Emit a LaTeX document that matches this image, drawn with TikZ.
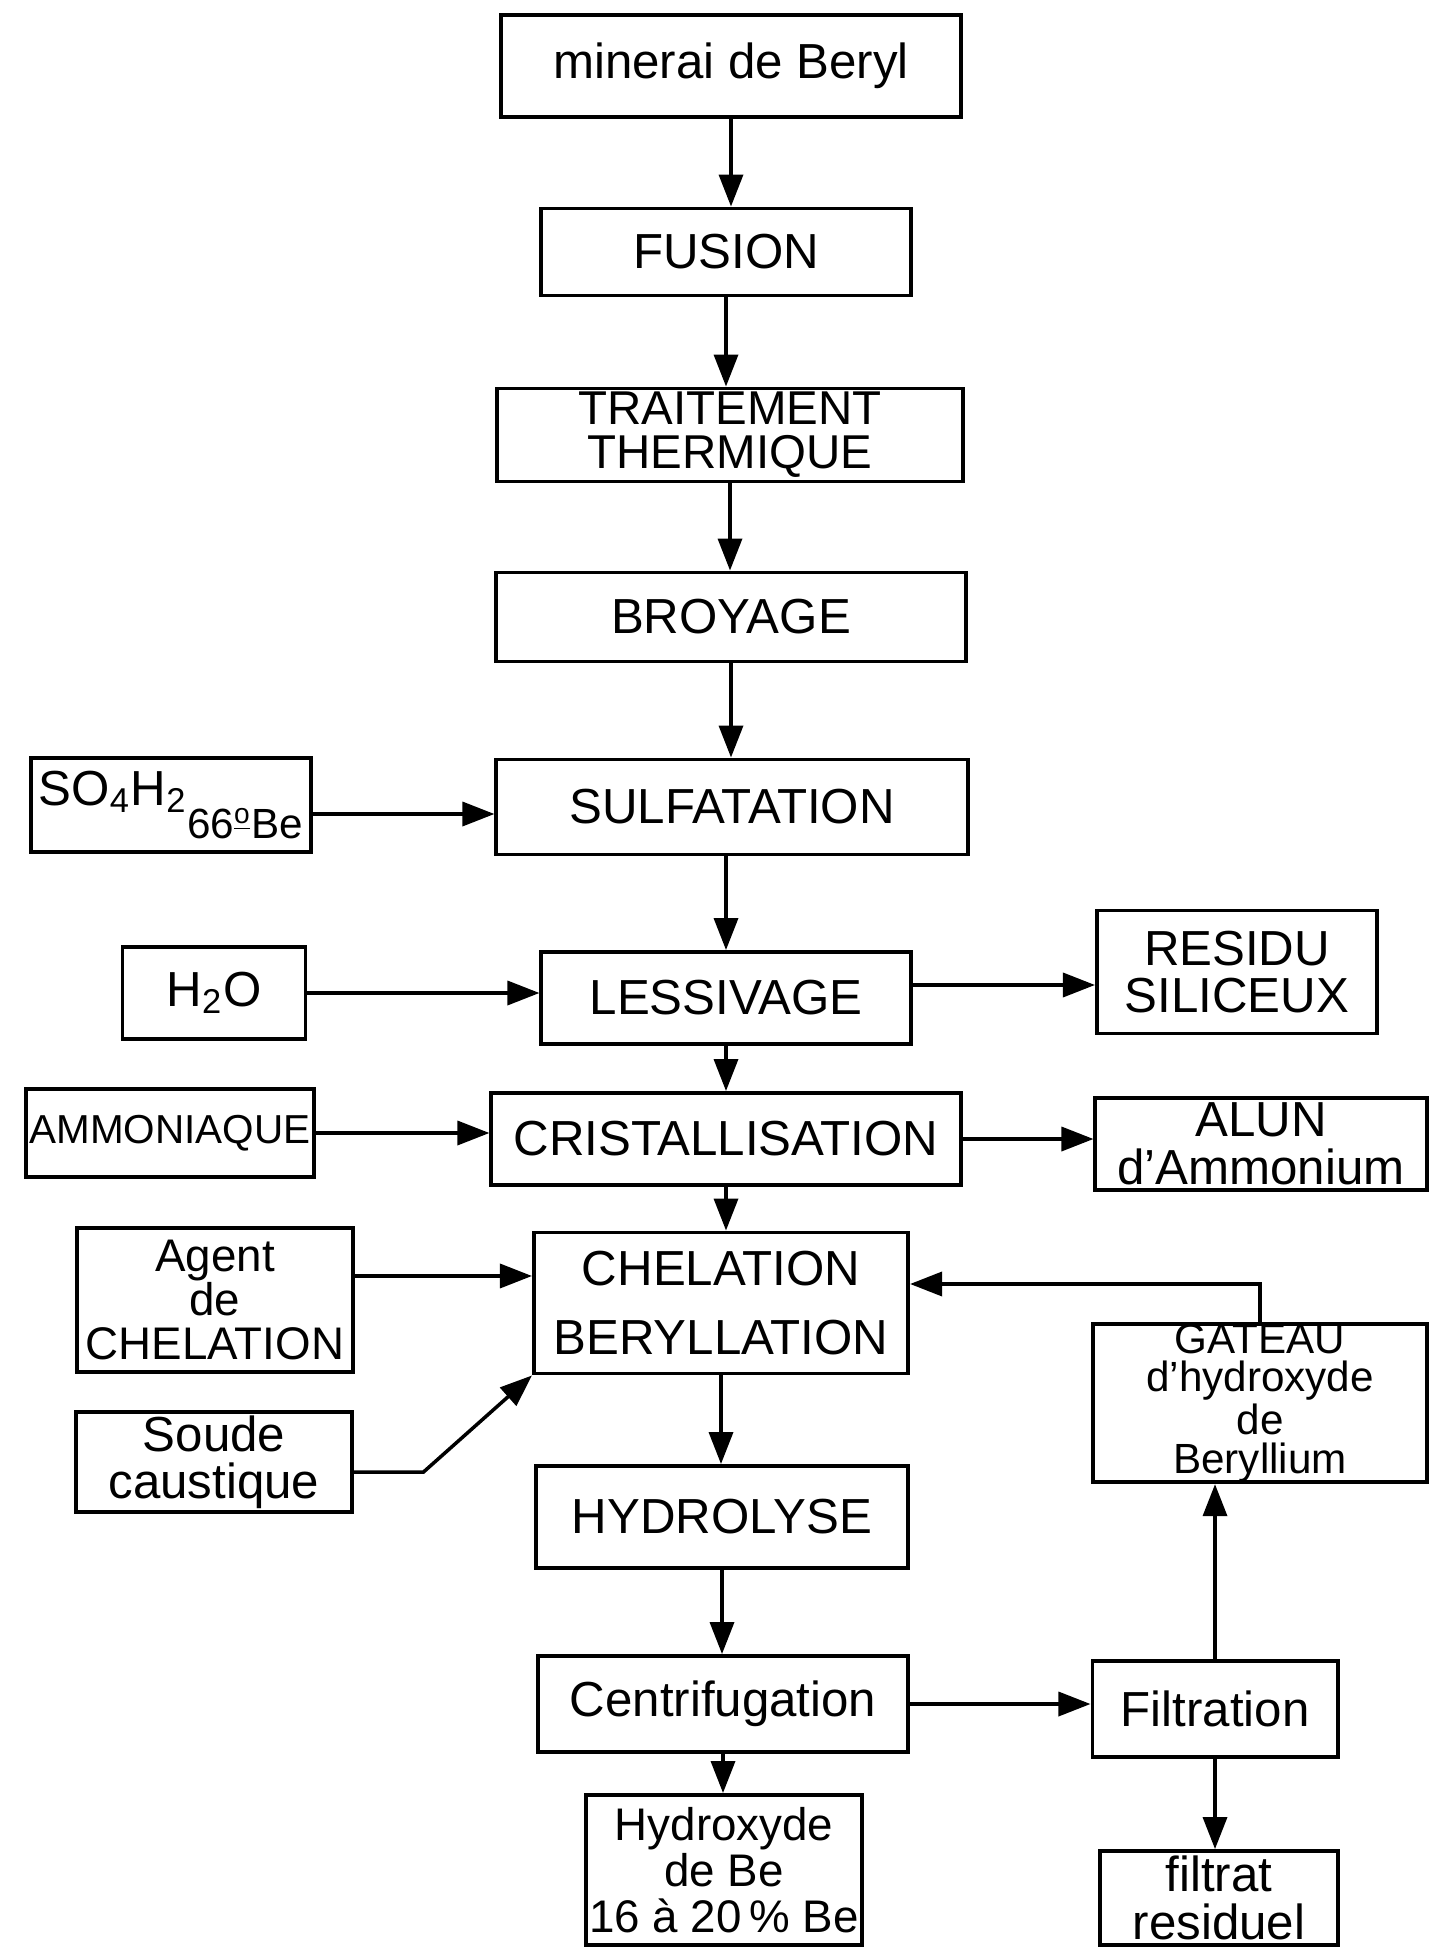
\documentclass[tikz,border=0pt]{standalone}
\usepackage{fontspec}
\setmainfont{Liberation Sans}
\usepackage{tikz}
\usetikzlibrary{arrows.meta,calc,positioning}
\tikzset{
  stepbox/.style={draw, line width=1.1pt, fill=white, align=center, inner sep=1pt, font=\fontsize{14}{13.5}\selectfont},
  feed/.style={draw, line width=1.1pt, fill=white, align=center, inner sep=1pt, font=\fontsize{14}{13.5}\selectfont},
  product/.style={draw, line width=1.1pt, fill=white, align=center, inner sep=1pt, font=\fontsize{14}{13.5}\selectfont},
  flow/.style={-{Triangle[length=3.2mm,width=2.4mm]}, line width=1pt}
}
\begin{document}
\begin{tikzpicture}[x=0.01cm,y=-0.01cm]
  \useasboundingbox (0,0) rectangle (1434,1949);

  % main line
  \node[stepbox, minimum width=4.59cm, minimum height=1.02cm] (ore) at (731,66) {minerai de Beryl};
  \node[stepbox, minimum width=3.69cm, minimum height=0.87cm] (fusion) at (726,252) {FUSION};
  \node[stepbox, minimum width=4.66cm, minimum height=0.93cm, inner sep=0pt, font=\fontsize{13.5}{12.5}\selectfont] (thermal) at (730,435) {TRAITEMENT\\THERMIQUE};
  \node[stepbox, minimum width=4.69cm, minimum height=0.89cm] (grind) at (731,617) {BROYAGE};
  \node[stepbox, minimum width=4.71cm, minimum height=0.95cm] (sulfat) at (732,807) {SULFATATION};
  \node[stepbox, minimum width=3.69cm, minimum height=0.92cm] (leach) at (726,998) {LESSIVAGE};
  \node[stepbox, minimum width=4.69cm, minimum height=0.92cm] (crystal) at (726,1139) {CRISTALLISATION};
  \node[stepbox, minimum width=3.74cm, minimum height=1.41cm] (chelat) at (721,1303) {CHELATION\\[6pt]BERYLLATION};
  \node[stepbox, minimum width=3.71cm, minimum height=1.02cm] (hydrol) at (722,1517) {HYDROLYSE};
  \node[stepbox, minimum width=3.70cm, minimum height=0.96cm] (centri) at (723,1704) {Centrifugation};
  \node[product, minimum width=2.74cm, minimum height=1.50cm, font=\fontsize{13}{13}\selectfont] (hydrox) at (724,1870) {Hydroxyde\\de Be\\16 à 20\,\% Be};

  % feeds on the left
  \node[feed, minimum width=2.80cm, minimum height=0.94cm] (acid) at (171,805) {SO\textsubscript{4}H\textsubscript{2}\raisebox{-1.3ex}{\fontsize{12}{12}\selectfont 66\textsuperscript{\underline{o}}Be}};
  \node[feed, minimum width=1.83cm, minimum height=0.92cm] (water) at (214,993) {H\textsubscript{2}O};
  \node[feed, minimum width=2.78cm, minimum height=0.88cm, font=\fontsize{11.5}{12}\selectfont] (ammonia) at (170,1133) {AMMONIAQUE};
  \node[feed, minimum width=2.76cm, minimum height=1.44cm, font=\fontsize{13}{12.5}\selectfont] (agent) at (215,1300) {Agent\\de\\CHELATION};
  \node[feed, minimum width=2.75cm, minimum height=0.99cm] (soda) at (214,1462) {Soude\\caustique};

  % products on the right
  \node[product, minimum width=2.80cm, minimum height=1.23cm] (residue) at (1237,972) {RESIDU\\SILICEUX};
  \node[product, minimum width=3.31cm, minimum height=0.92cm] (alum) at (1261,1144) {ALUN\\d'Ammonium};
  \node[product, minimum width=3.34cm, minimum height=1.43cm, inner sep=0pt, font=\fontsize{12}{11}\selectfont] (cake) at (1260,1403) {GATEAU\\d'hydroxyde\\de\\Beryllium};
  \node[product, minimum width=2.45cm, minimum height=0.96cm] (filter) at (1215,1709) {Filtration};
  \node[product, minimum width=2.38cm, minimum height=0.94cm] (filtrate) at (1219,1898) {filtrat\\residuel};

  \draw[flow] (ore.south) -- (ore.south |- fusion.north);
  \draw[flow] (fusion.south) -- (fusion.south |- thermal.north);
  \draw[flow] (thermal.south) -- (thermal.south |- grind.north);
  \draw[flow] (grind.south) -- (grind.south |- sulfat.north);
  \draw[flow] (leach.north |- sulfat.south) -- (leach.north);
  \draw[flow] (leach.south) -- (leach.south |- crystal.north);
  \draw[flow] (crystal.south) -- (crystal.south |- chelat.north);
  \draw[flow] (chelat.south) -- (chelat.south |- hydrol.north);
  \draw[flow] (hydrol.south) -- (hydrol.south |- centri.north);
  \draw[flow] (centri.south) -- (centri.south |- hydrox.north);

  \draw[flow] ([yshift=-0.09cm]acid.east) -- ([yshift=-0.09cm]acid.east -| sulfat.west);
  \draw[flow] (water.east) -- (water.east -| leach.west);
  \draw[flow] ([yshift=0.13cm]leach.east) -- ([yshift=0.13cm]leach.east -| residue.west);
  \draw[flow] (ammonia.east) -- (ammonia.east -| crystal.west);
  \draw[flow] (crystal.east) -- (crystal.east -| alum.west);
  \draw[flow] ([yshift=0.24cm]agent.east) -- ([yshift=0.24cm]agent.east -| chelat.west);
  \draw[flow] ([yshift=-0.1cm]soda.east) -- ++(70,0) -- (chelat.south west);
  \draw[flow] (cake.north) |- ([yshift=0.19cm]chelat.east);
  \draw[flow] (centri.east) -- (centri.east -| filter.west);
  \draw[flow] (filter.north) -- (filter.north |- cake.south);
  \draw[flow] (filter.south) -- (filter.south |- filtrate.north);
\end{tikzpicture}
\end{document}
